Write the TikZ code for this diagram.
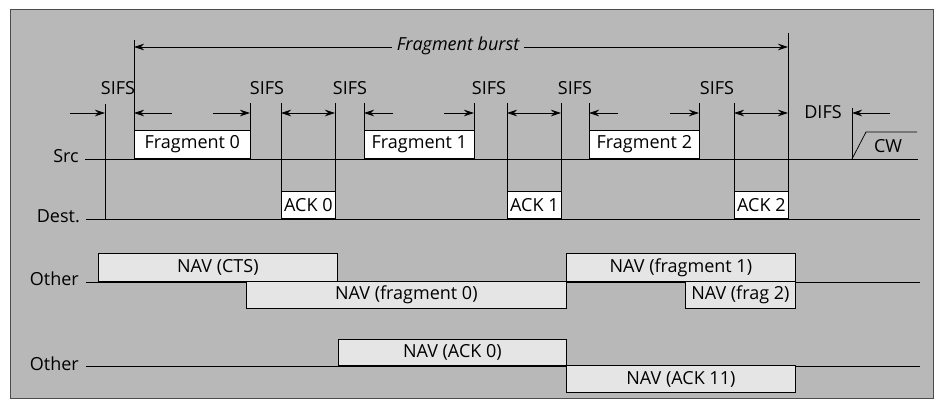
\documentclass[tikz,border=0pt]{standalone}
\usepackage{fontspec}
\setmainfont{Open Sans}
\usetikzlibrary{arrows.meta}
\definecolor{panel}{gray}{0.72}
\definecolor{navfill}{gray}{0.9}
\begin{document}
\begin{tikzpicture}[x=1pt,y=-1pt,
  txt/.style={font=\fontsize{18}{18}\selectfont, inner sep=0pt},
  ln/.style={line width=0.75pt, black},
  fbox/.style={draw=black, line width=0.75pt, fill=white, inner sep=0pt, anchor=south west,
    font=\fontsize{18}{18}\selectfont},
  navbox/.style={fbox, fill=navfill},
  arr/.style={line width=0.75pt, -{Stealth[length=10pt,width=6.5pt]}},
  darr/.style={line width=0.75pt, {Stealth[length=10pt,width=6.5pt]}-{Stealth[length=10pt,width=6.5pt]}}]
\useasboundingbox (0,0) rectangle (939,401);
\fill[white] (0,0) rectangle (939,401);
\draw[fill=panel, draw=black!70, line width=0.6pt] (10,9) rectangle (933,398);

% time lines
\draw[ln] (85,159) -- (918,159);
\draw[ln] (86,219) -- (920,219);
\draw[ln] (86,282) -- (920,282);
\draw[ln] (86,366) -- (920,366);

% labels
\node[txt, anchor=base east] (lsrc) at (79,162) {Src};
\node[txt, anchor=base east] (ldst) at (80,222) {Dest.};
\node[txt, anchor=base east] (loth1) at (79,285) {Other};
\node[txt, anchor=base east] (loth2) at (79,370) {Other};

% NAV boxes
\node[navbox, minimum width=239pt, minimum height=28pt] (navcts) at (98,282) {NAV (CTS)};
\node[navbox, minimum width=320pt, minimum height=27pt] (navf0) at (246,309) {NAV (fragment 0)};
\node[navbox, minimum width=229pt, minimum height=28pt] (navf1) at (566,282) {NAV (fragment 1)};
\node[navbox, minimum width=110pt, minimum height=27pt] (navf2) at (685,309) {NAV (frag 2)};
\node[navbox, minimum width=228pt, minimum height=26pt] (nava0) at (338,366) {NAV (ACK 0)};
\node[navbox, minimum width=229pt, minimum height=27pt] (nava1) at (566,393) {NAV (ACK 11)};

% frame boxes
\node[fbox, minimum width=116pt, minimum height=28pt] (f0) at (134,159) {Fragment 0};
\node[fbox, minimum width=110pt, minimum height=28pt] (f1) at (364,159) {Fragment 1};
\node[fbox, minimum width=110pt, minimum height=28pt] (f2) at (589,159) {Fragment 2};
\node[fbox, minimum width=54pt, minimum height=27pt] (a0) at (281,219) {ACK 0};
\node[fbox, minimum width=54pt, minimum height=27pt] (a1) at (507,219) {ACK 1};
\node[fbox, minimum width=54pt, minimum height=27pt] (a2) at (734,219) {ACK 2};

% vertical marker lines
\draw[ln] (105,104) -- (105,219);
\draw[ln] (134,40) -- (134,159);
\draw[ln] (250,103) -- (250,159);
\draw[ln] (281,103) -- (281,219);
\draw[ln] (335,103) -- (335,219);
\draw[ln] (364,103) -- (364,159);
\draw[ln] (474,103) -- (474,159);
\draw[ln] (507,103) -- (507,219);
\draw[ln] (561,103) -- (561,219);
\draw[ln] (589,103) -- (589,159);
\draw[ln] (699,103) -- (699,159);
\draw[ln] (734,103) -- (734,219);
\draw[ln] (788,33) -- (788,219);
\draw[ln] (852,108) -- (852,159);

% CW
\draw[ln] (852,159) -- (866,132) -- (917,132);
\node[txt] (cw) at (888,146) {CW};

% Fragment burst
\node[txt, font=\fontsize{18}{18}\selectfont\itshape, inner xsep=5pt] (fb) at (458,46) {Fragment burst};
\coordinate (fbl) at (134,47);
\coordinate (fbr) at (788,47);
\draw[arr] (fb.west |- fbl) -- (fbl);
\draw[arr] (fb.east |- fbr) -- (fbr);

% SIFS / DIFS labels
\node[txt] (s1) at (118,88) {SIFS};
\node[txt] (s2) at (267,88) {SIFS};
\node[txt] (s3) at (350,88) {SIFS};
\node[txt] (s4) at (489,88) {SIFS};
\node[txt] (s5) at (575,88) {SIFS};
\node[txt] (s6) at (717,88) {SIFS};
\node[txt] (d1) at (823,112) {DIFS};

% interval arrows
\foreach \n/\xa/\xb in {p1/70/105, p2/172/134, p3/213/250, p4/393/364, p5/444/474, p6/618/589, p7/670/699, p8/890/852}
  {\coordinate (\n s) at (\xa,113); \coordinate (\n e) at (\xb,113);
   \draw[arr] (\n s) -- (\n e);}
\foreach \n/\xa/\xb in {q1/281/335, q2/507/561, q3/734/788}
  {\coordinate (\n s) at (\xa,113); \coordinate (\n e) at (\xb,113);
   \draw[darr] (\n s) -- (\n e);}
\end{tikzpicture}
\end{document}
